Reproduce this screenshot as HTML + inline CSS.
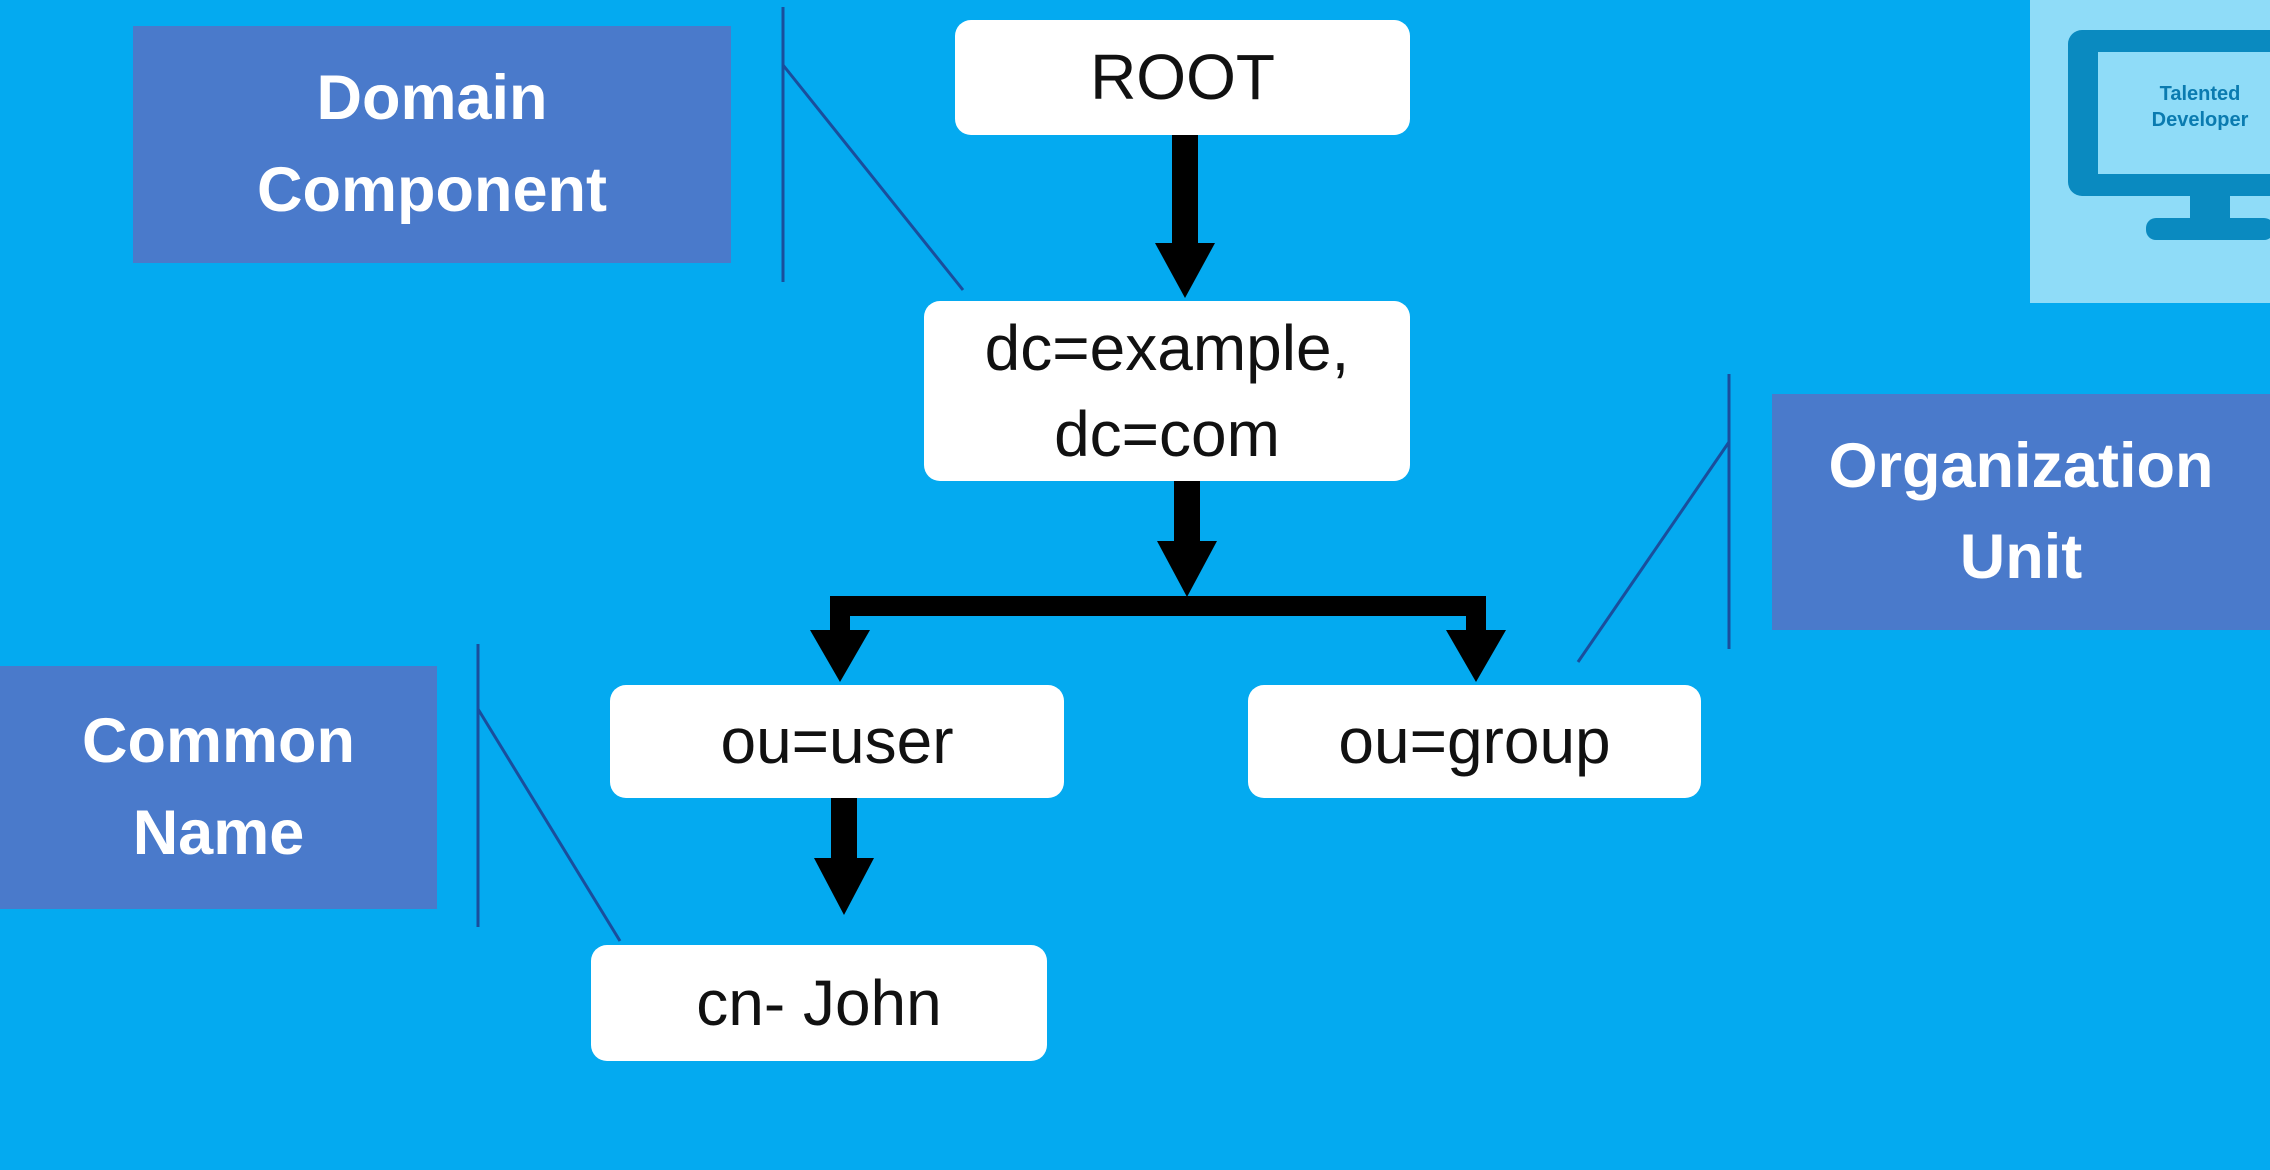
<!DOCTYPE html>
<html><head><style>
body{margin:0;width:2270px;height:1170px;background:#04aaf0;position:relative;overflow:hidden;font-family:"Liberation Sans",sans-serif}
.n{position:absolute;background:#fff;border-radius:16px;display:flex;align-items:center;justify-content:center;text-align:center;font-size:64px;color:#111;line-height:1.35}
.l{position:absolute;background:#4a7acb;display:flex;align-items:center;justify-content:center;text-align:center;font-size:63px;font-weight:bold;color:#fff;line-height:1.45}
svg{position:absolute;left:0;top:0}
</style></head><body>
<div class="l" style="left:133px;top:26px;width:598px;height:237px">Domain<br>Component</div>
<div class="l" style="left:1772px;top:394px;width:498px;height:236px">Organization<br>Unit</div>
<div class="l" style="left:0;top:666px;width:437px;height:243px">Common<br>Name</div>
<div class="n" style="left:955px;top:20px;width:455px;height:115px">ROOT</div>
<div class="n" style="left:924px;top:301px;width:486px;height:180px">dc=example,<br>dc=com</div>
<div class="n" style="left:610px;top:685px;width:454px;height:113px">ou=user</div>
<div class="n" style="left:1248px;top:685px;width:453px;height:113px">ou=group</div>
<div class="n" style="left:591px;top:945px;width:456px;height:116px">cn- John</div>
<div style="position:absolute;left:2030px;top:0;width:240px;height:303px;background:#8fdcf8"></div>
<svg width="2270" height="1170">
<g stroke="#1a4e9c" stroke-width="3" fill="none">
<line x1="783" y1="7" x2="783" y2="282"/><line x1="783" y1="65" x2="963" y2="290"/>
<line x1="1729" y1="374" x2="1729" y2="649"/><line x1="1729" y1="442" x2="1578" y2="662"/>
<line x1="478" y1="644" x2="478" y2="927"/><line x1="478" y1="709" x2="620" y2="941"/>
</g>
<g fill="#000">
<rect x="1172" y="135" width="26" height="110"/><polygon points="1155,243 1215,243 1185,298"/>
<rect x="1174" y="481" width="26" height="62"/><polygon points="1157,541 1217,541 1187,597"/>
<rect x="830" y="596" width="656" height="20"/>
<rect x="830" y="596" width="20" height="40"/><polygon points="810,630 870,630 840,682"/>
<rect x="1466" y="596" width="20" height="40"/><polygon points="1446,630 1506,630 1476,682"/>
<rect x="831" y="798" width="26" height="62"/><polygon points="814,858 874,858 844,915"/>
</g>
<g fill="#0a8ac0">
<path d="M2082,30 H2270 V196 H2082 a14,14 0 0 1 -14,-14 V44 a14,14 0 0 1 14,-14 Z M2098,52 V174 H2270 V52 Z" fill-rule="evenodd"/>
<rect x="2190" y="196" width="40" height="28"/>
<rect x="2146" y="218" width="128" height="22" rx="10"/>
</g>
<text x="2200" y="100" font-size="20" font-weight="bold" fill="#0a7bb0" text-anchor="middle" font-family="Liberation Sans">Talented</text>
<text x="2200" y="126" font-size="20" font-weight="bold" fill="#0a7bb0" text-anchor="middle" font-family="Liberation Sans">Developer</text>
</svg>
</body></html>
